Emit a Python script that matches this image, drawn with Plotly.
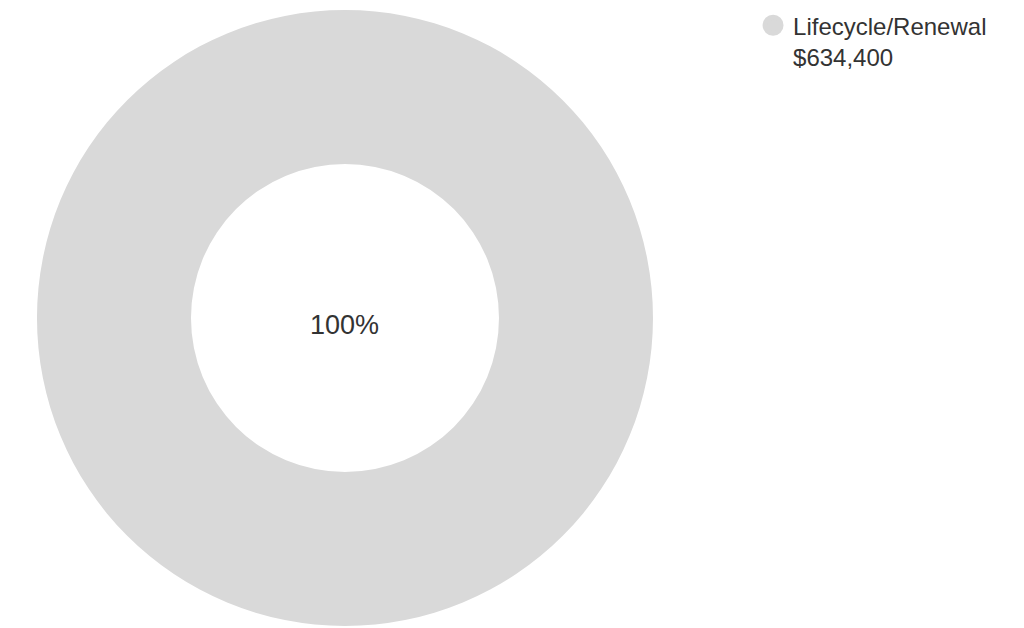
import plotly.graph_objects as go

labels = ["Lifecycle/Renewal"]
values = [634400]
colors = ["#d9d9d9"]

total = sum(values)
fig = go.Figure()
fig.add_trace(go.Pie(
    labels=labels, values=values, hole=0.5,
    marker=dict(colors=colors, line=dict(width=0)),
    textinfo="none", hoverinfo="label+value+percent",
    sort=False, showlegend=False,
    domain=dict(x=[0.0361, 0.6377], y=[0.0032, 0.9841]),
))
for lab, val, col in zip(labels, values, colors):
    fig.add_trace(go.Scatter(
        x=[None], y=[None], mode="markers",
        marker=dict(symbol="circle", size=16, color=col,
                    line=dict(width=6, color=col)),
        name=f"{lab}<br>${val:,.0f}", showlegend=True,
    ))

pct = f"{values[0] / total * 100:.0f}%"
fig.add_annotation(text=pct, x=0.3369, y=0.483, xref="paper", yref="paper",
                   showarrow=False, font=dict(size=27, color="#333333"))

fig.update_layout(
    width=1024, height=628,
    margin=dict(l=0, r=0, t=0, b=0),
    paper_bgcolor="white", plot_bgcolor="white",
    font=dict(family="Liberation Sans, Arial, sans-serif", color="#333333"),
    xaxis=dict(visible=False), yaxis=dict(visible=False),
    legend=dict(x=0.7354, y=0.995, xanchor="left", yanchor="top",
                font=dict(size=24, color="#333333"), valign="top",
                bgcolor="rgba(0,0,0,0)"),
)
fig.write_html("out.html", config={"displayModeBar": False},
               post_script="document.body.style.margin='0px';")
